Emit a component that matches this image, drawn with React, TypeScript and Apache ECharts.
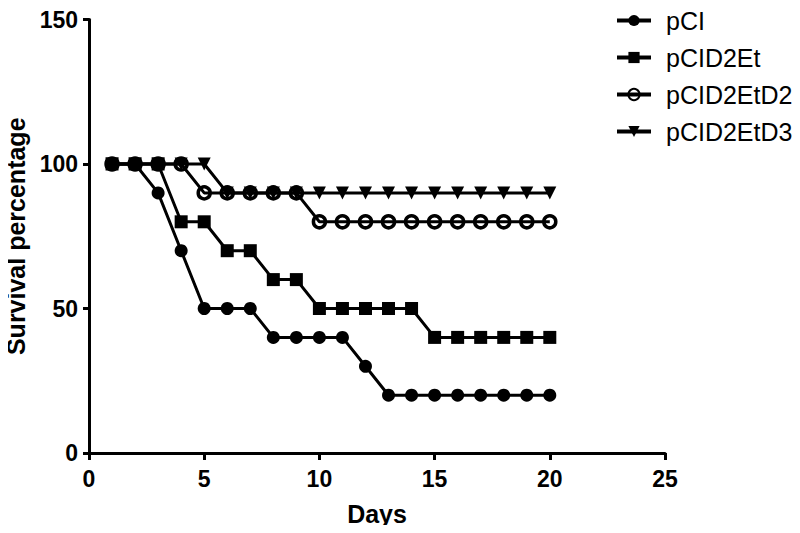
import React, { useEffect, useRef } from "react";
import * as echarts from "echarts";

const days = [1, 2, 3, 4, 5, 6, 7, 8, 9, 10, 11, 12, 13, 14, 15, 16, 17, 18, 19, 20];
const pCI = [100, 100, 90, 70, 50, 50, 50, 40, 40, 40, 40, 30, 20, 20, 20, 20, 20, 20, 20, 20];
const pCID2Et = [100, 100, 100, 80, 80, 70, 70, 60, 60, 50, 50, 50, 50, 50, 40, 40, 40, 40, 40, 40];
const pCID2EtD2 = [100, 100, 100, 100, 90, 90, 90, 90, 90, 80, 80, 80, 80, 80, 80, 80, 80, 80, 80, 80];
const pCID2EtD3 = [100, 100, 100, 100, 100, 90, 90, 90, 90, 90, 90, 90, 90, 90, 90, 90, 90, 90, 90, 90];
const seriesNames = ["pCI", "pCID2Et", "pCID2EtD2", "pCID2EtD3"];

const FONT = "'Liberation Sans', Arial, Helvetica, sans-serif";

export default function App() {
  const ref = useRef<HTMLDivElement>(null);
  useEffect(() => {
    if (!ref.current) return;
    const chart = echarts.init(ref.current, undefined, { renderer: "svg" });
    const pair = (vals: number[]) => days.map((d, i) => [d, vals[i]]);
    const base = {
      type: "line",
      lineStyle: { color: "#000", width: 3 },
      emphasis: { disabled: true },
    };
    chart.setOption({
      animation: false,
      backgroundColor: "#fff",
      grid: { left: 89, right: 135, top: 19.5, bottom: 80, containLabel: false, outerBoundsMode: "none" },
      legend: {
        orient: "vertical",
        left: 610,
        top: 3,
        itemWidth: 34,
        itemHeight: 14,
        itemGap: 12,
        selectedMode: false,
        lineStyle: { width: 4 },
        textStyle: { fontFamily: FONT, fontSize: 25, color: "#000", padding: [0, 0, 0, 10] },
        data: seriesNames,
      },
      xAxis: {
        type: "value",
        min: 0,
        max: 25,
        interval: 5,
        name: "Days",
        nameLocation: "middle",
        nameGap: 48,
        nameTextStyle: { fontFamily: FONT, fontSize: 25, fontWeight: "bold", color: "#000" },
        axisLine: { show: true, lineStyle: { color: "#000", width: 3 } },
        axisTick: { show: true, length: 7, lineStyle: { color: "#000", width: 3 } },
        axisLabel: { fontFamily: FONT, fontSize: 23, fontWeight: "bold", color: "#000", margin: 14 },
        splitLine: { show: false },
      },
      yAxis: {
        type: "value",
        min: 0,
        max: 150,
        interval: 50,
        name: "Survival percentage",
        nameLocation: "middle",
        nameRotate: 90,
        nameGap: 60,
        nameTextStyle: { fontFamily: FONT, fontSize: 25, fontWeight: "bold", color: "#000" },
        axisLine: { show: true, lineStyle: { color: "#000", width: 3 } },
        axisTick: { show: true, length: 6, lineStyle: { color: "#000", width: 3 } },
        axisLabel: { fontFamily: FONT, fontSize: 23, fontWeight: "bold", color: "#000", margin: 11 },
        splitLine: { show: false },
      },
      series: [
        {
          ...base,
          name: seriesNames[0],
          data: pair(pCI),
          symbol: "circle",
          symbolSize: 13,
          itemStyle: { color: "#000" },
        },
        {
          ...base,
          name: seriesNames[1],
          data: pair(pCID2Et),
          symbol: "rect",
          symbolSize: 13,
          itemStyle: { color: "#000" },
        },
        {
          ...base,
          name: seriesNames[2],
          data: pair(pCID2EtD2),
          symbol: "circle",
          symbolSize: 12,
          itemStyle: { color: "rgba(255,255,255,0)", borderColor: "#000", borderWidth: 3.5 },
        },
        {
          ...base,
          name: seriesNames[3],
          data: pair(pCID2EtD3),
          symbol: "triangle",
          symbolRotate: 180,
          symbolSize: 13,
          itemStyle: { color: "#000" },
        },
      ],
    });
    return () => chart.dispose();
  }, []);
  return <div ref={ref} style={{ width: 800, height: 533, margin: -8 }} />;
}
